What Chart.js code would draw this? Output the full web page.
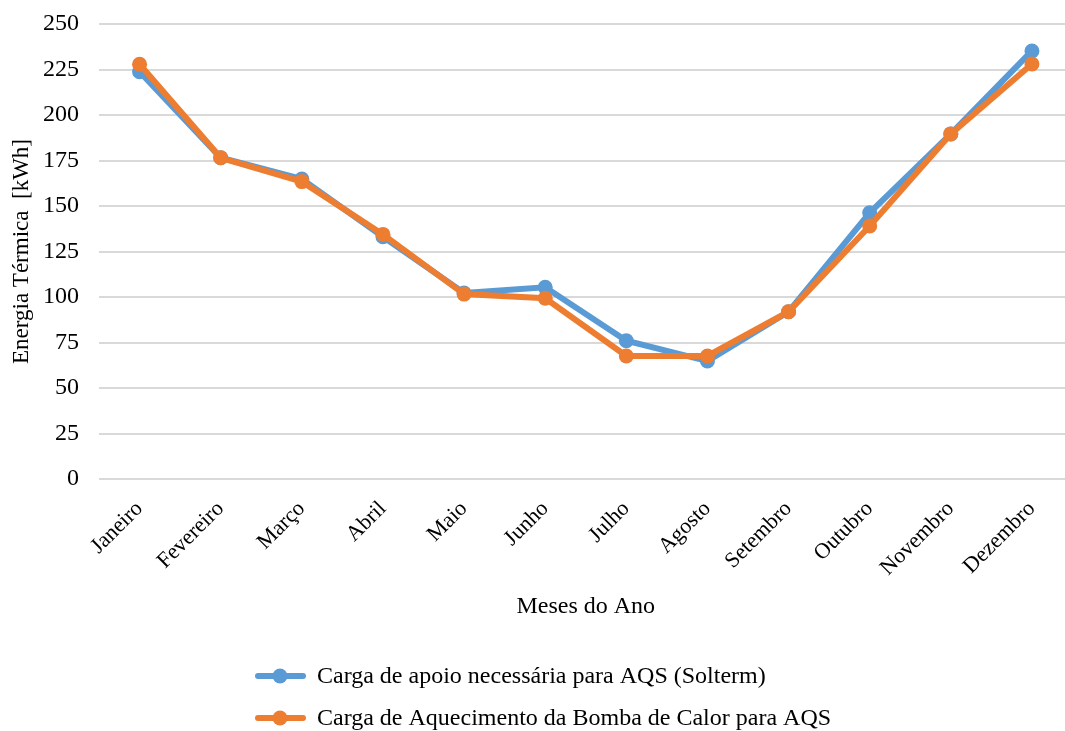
<!DOCTYPE html>
<html>
<head>
<meta charset="utf-8">
<script src="https://cdn.jsdelivr.net/npm/chart.js@4"></script>
<style>
  html, body { margin: 0; padding: 0; background: #fff; overflow: hidden; }
  #wrap { width: 1080px; height: 731px; }
</style>
</head>
<body>
<div id="wrap"><canvas id="chart" width="1080" height="731"></canvas></div>
<script>
const months = ['Janeiro', 'Fevereiro', 'Março', 'Abril', 'Maio', 'Junho',
    'Julho', 'Agosto', 'Setembro', 'Outubro', 'Novembro', 'Dezembro'];
const solterm = [223.8, 176.5, 164.8, 133.1, 102.2, 105.3, 76.0, 64.8, 91.9, 146.3, 189.6, 235.2];
const bombaCalor = [227.9, 176.5, 163.4, 134.4, 101.6, 99.3, 67.6, 67.6, 91.9, 139.0, 189.6, 228.0];
const seriesNames = ['Carga de apoio necessária para AQS (Solterm)',
    'Carga de Aquecimento da Bomba de Calor para AQS'];
const seriesColors = ['#5B9BD5', '#ED7D31'];

const FONT = '"Liberation Serif", "Times New Roman", serif';

// legend stacked in two rows like the original
const stackedLegend = {
    id: 'stackedLegend',
    afterDraw(chart) {
        const ctx = chart.ctx;
        ctx.save();
        chart.data.datasets.forEach((ds, i) => {
            const y = 676 + i * 42;
            ctx.strokeStyle = ds.borderColor;
            ctx.lineWidth = 6;
            ctx.lineCap = 'round';
            ctx.beginPath();
            ctx.moveTo(258, y);
            ctx.lineTo(303, y);
            ctx.stroke();
            ctx.fillStyle = ds.borderColor;
            ctx.beginPath();
            ctx.arc(280, y, 7.5, 0, Math.PI * 2);
            ctx.fill();
            ctx.fillStyle = '#000';
            ctx.font = '24px ' + FONT;
            ctx.textBaseline = 'middle';
            ctx.textAlign = 'left';
            ctx.fillText(ds.label, 317, y + 1);
        });
        ctx.restore();
    }
};

const makeSet = (label, data, color, order) => ({
    label, data, order,
    borderColor: color,
    backgroundColor: color,
    borderWidth: 6,
    pointRadius: 7.5,
    pointHoverRadius: 7.5,
    pointBorderWidth: 0,
    tension: 0
});

new Chart(document.getElementById('chart').getContext('2d'), {
    type: 'line',
    data: {
        labels: months,
        datasets: [
            makeSet(seriesNames[0], solterm, seriesColors[0], 1),
            makeSet(seriesNames[1], bombaCalor, seriesColors[1], 0)
        ]
    },
    options: {
        responsive: false,
        animation: false,
        layout: { padding: { top: 24, right: 0, bottom: 106, left: 0 } },
        plugins: { legend: { display: false }, tooltip: { enabled: false } },
        scales: {
            x: {
                offset: true,
                grid: { display: false },
                border: { display: false },
                ticks: {
                    color: '#000', font: { family: FONT, size: 22 },
                    maxRotation: 45, minRotation: 45, padding: 9
                },
                title: {
                    display: true, text: 'Meses do Ano', color: '#000',
                    font: { family: FONT, size: 24 }, padding: { top: 10 }
                },
                afterFit(scale) { scale.height = 146; }
            },
            y: {
                min: 0, max: 250,
                grid: { color: '#d9d9d9', lineWidth: 2, drawTicks: false },
                border: { display: false },
                ticks: {
                    stepSize: 25, color: '#000', padding: 20,
                    font: { family: FONT, size: 24 }
                },
                title: {
                    display: true, text: 'Energia Térmica  [kWh]', color: '#000',
                    font: { family: FONT, size: 23 }, padding: { top: 8, bottom: 0 }
                },
                afterFit(scale) {
                    scale.width = 99;
                    scale.paddingTop = 0;
                    scale.paddingBottom = 0;
                }
            }
        }
    },
    plugins: [stackedLegend]
});
</script>
</body>
</html>
